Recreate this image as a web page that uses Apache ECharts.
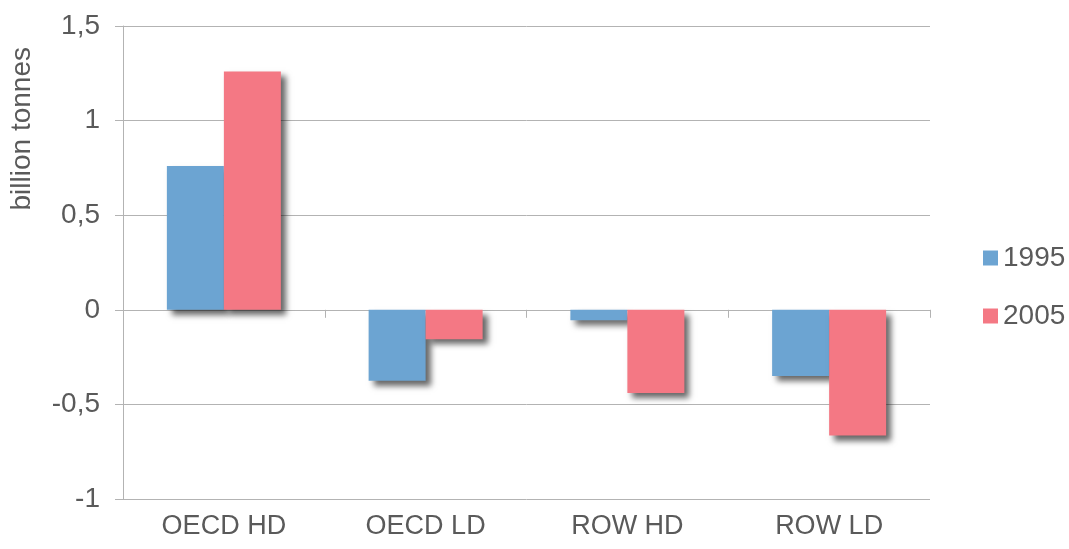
<!DOCTYPE html>
<html>
<head>
<meta charset="utf-8">
<script src="https://cdn.jsdelivr.net/npm/echarts@6/dist/echarts.min.js"></script>
<style>html,body{margin:0;padding:0;background:#fff}#c{width:1069px;height:549px}</style>
</head>
<body>
<div id="c"></div>
<script>
const categories = ['OECD HD', 'OECD LD', 'ROW HD', 'ROW LD'];
const seriesNames = ['1995', '2005'];
const values1995 = [0.76, -0.375, -0.055, -0.35];
const values2005 = [1.26, -0.155, -0.44, -0.665];
const yTicks = { min: -1, max: 1.5, interval: 0.5 };
const yAxisTitle = 'billion tonnes';

const FONT = '"Liberation Sans", Arial, Helvetica, sans-serif';
const TXT = '#5a5a5a';
const GRID = '#b3b3b3';
const colors = ['#6ca4d2', '#f47884'];

const chart = echarts.init(document.getElementById('c'), null, { renderer: 'canvas' });
const barStyle = (c) => ({
  color: c,
  shadowColor: 'rgba(0,0,0,0.6)',
  shadowBlur: 6,
  shadowOffsetX: 5,
  shadowOffsetY: 5
});
chart.setOption({
  animation: false,
  textStyle: { fontFamily: FONT },
  grid: { left: 123, right: 139, top: 26, bottom: 50, containLabel: false },
  legend: {
    data: seriesNames,
    orient: 'vertical',
    left: 978,
    top: 237,
    itemWidth: 15,
    itemHeight: 15,
    itemGap: 26,
    icon: 'rect',
    textStyle: { fontSize: 28, color: TXT, fontFamily: FONT, lineHeight: 32, padding: [0, 0, 0, 0] }
  },
  graphic: [{
    type: 'text',
    left: 8,
    top: 47,
    rotation: Math.PI / 2,
    style: { text: yAxisTitle, font: '28px ' + FONT, fill: TXT }
  }],
  xAxis: [{
    type: 'category',
    data: categories,
    position: 'bottom',
    axisLine: { onZero: true, lineStyle: { color: GRID, width: 1 } },
    axisTick: { show: true, length: 8, lineStyle: { color: GRID } },
    axisLabel: { show: false },
    splitLine: { show: false }
  }, {
    type: 'category',
    data: categories,
    position: 'bottom',
    axisLine: { show: false, onZero: false },
    axisTick: { show: false },
    axisLabel: { show: true, fontSize: 27, color: TXT, fontFamily: FONT, margin: 14 },
    splitLine: { show: false }
  }],
  yAxis: {
    type: 'value',
    min: yTicks.min,
    max: yTicks.max,
    interval: yTicks.interval,
    axisLine: { show: true, lineStyle: { color: GRID, width: 1 } },
    axisTick: { show: true, length: 8, lineStyle: { color: GRID } },
    splitLine: { show: true, lineStyle: { color: GRID, width: 1 } },
    axisLabel: {
      fontSize: 28, color: TXT, fontFamily: FONT, margin: 23,
      formatter: (v) => String(v).replace('.', ',')
    }
  },
  series: [{
    name: seriesNames[0],
    type: 'bar',
    xAxisIndex: 0,
    data: values1995,
    barWidth: 57,
    barGap: '0%',
    itemStyle: barStyle(colors[0])
  }, {
    name: seriesNames[1],
    type: 'bar',
    xAxisIndex: 0,
    data: values2005,
    barWidth: 57,
    barGap: '0%',
    itemStyle: barStyle(colors[1])
  }]
});
</script>
</body>
</html>
